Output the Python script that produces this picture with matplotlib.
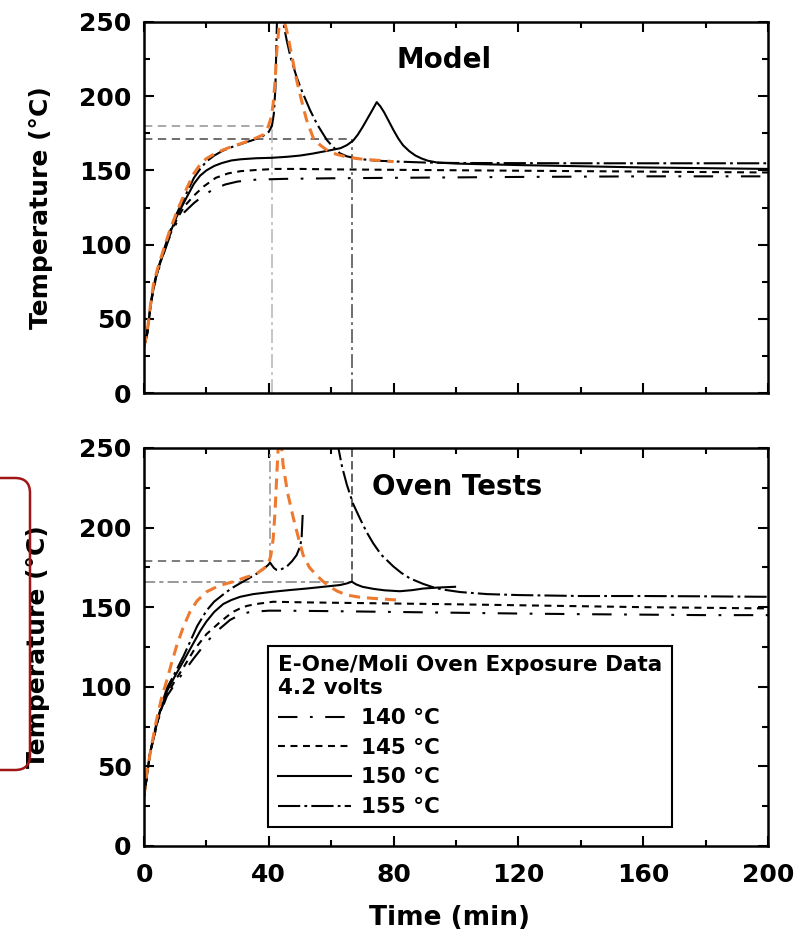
import matplotlib.pyplot as plt
from matplotlib.ticker import MultipleLocator
from matplotlib.patches import FancyBboxPatch

plt.rcParams['font.family'] = ['DejaVu Sans']
plt.rcParams['font.weight'] = 'bold'
plt.rcParams['lines.scale_dashes'] = False

# ---- Model (top panel) ----
m_t140 = [0, 1, 2, 3, 4.5, 6, 8, 10.5, 13, 16, 19, 22, 26, 30, 36, 45, 60, 80, 100, 120, 140, 160, 180, 200]
m_T140 = [31, 40, 57, 70, 82, 92, 104, 115, 122, 128, 133, 137, 140.5, 142.5, 143.8, 144.3, 144.7, 145, 145.3, 145.6, 145.8, 146, 146, 146]

m_t145 = [0, 1, 2, 3, 4.5, 6, 8, 10.5, 13, 16, 19, 23, 27, 31, 36, 42, 50, 60, 80, 100, 120, 140, 160, 180, 200]
m_T145 = [31, 40, 57, 71, 83, 93, 105, 117, 126, 133, 139, 145, 148, 149.5, 150.3, 151, 151, 150.7, 150.4, 150.1, 149.8, 149.5, 149.2, 148.9, 148.6]

m_t150 = [0, 1, 2, 3, 4.5, 6, 8, 10.5, 13.7, 16, 18, 20, 22.5, 25, 28, 31, 36, 41, 46, 50, 54, 57, 60, 63, 65, 67, 68.5, 70, 71.5, 73, 74.6,
          75.8, 77, 78.5, 80, 81.5, 83, 85, 87, 89, 91, 94, 100, 120, 140, 160, 180, 200]
m_T150 = [31, 40, 57, 71, 83, 93, 106, 119, 132, 141, 146.5, 150, 153, 155, 156.7, 157.5, 158.2, 158.5, 159.2, 160, 161.3, 162.5, 163.7, 165, 167, 170, 174, 179, 184.5, 190, 196,
          193, 189, 183, 177, 171.5, 167, 163, 160, 158, 156.5, 155.3, 154.6, 153.6, 152.8, 152, 151.5, 151]

m_t155 = [0, 1, 2, 3, 4.5, 6, 8, 10.5, 13.7, 16, 18, 20, 22.5, 25, 27.5, 30, 32.5, 35, 38, 40, 41, 41.6, 42.1, 42.6, 43.7,
          44.6, 45.7, 47, 48.9, 50.5, 53.2, 55.5, 58.6, 60.5, 62.8, 65, 68.2, 72, 75, 82, 90, 100, 120, 140, 160, 180, 200]
m_T155 = [31, 40, 58, 72, 84, 94, 107, 121, 135, 145, 151, 156, 160, 163, 165.3, 167, 168.8, 170.5, 173, 176, 180, 188, 205, 250, 268,
          250, 238, 226, 213, 204, 190.7, 181, 170.5, 166, 161.5, 159.5, 158, 157, 156.5, 155.9, 155.3, 155, 154.9, 154.8, 154.8, 154.8, 154.8]

m_t_orange = [0, 1, 2, 3, 4.5, 6, 8, 10.5, 13.7, 16, 18, 20, 22.5, 25, 28, 31, 35, 38.2, 39.8, 40.8, 41.4, 42, 42.5, 43.4, 44.2,
              45.0, 45.7, 47.3, 48.9, 50.5, 52.1, 54.3, 56.5, 58.6, 61.5, 65, 69, 73.5, 80]
m_T_orange = [31, 41, 58, 73, 85, 95, 108, 122, 138, 148, 154, 158, 161, 163.5, 166, 168, 171, 174, 179.5, 186, 195, 210, 229, 250, 262,
              250, 244.6, 228, 211, 197, 184, 171.6, 167, 163.7, 161, 159, 157.8, 157, 155.9]

m_ref_temp = [180, 171]
m_ref_time = [41, 66.6]

# ---- Oven tests (bottom panel) ----
o_t140 = [0, 1, 1.9, 3.5, 5, 7.3, 10, 12.6, 16, 20, 24, 27.6, 31, 34, 40, 44, 60, 80, 100, 120, 140, 160, 180, 200]
o_T140 = [31, 45, 58, 71, 82, 94, 102, 109, 118, 128, 136, 142, 145.5, 147, 147.8, 147.8, 147.5, 147, 146.5, 146, 145.6, 145.3, 145, 145]

o_t145 = [0, 1, 1.9, 3.5, 5, 7.3, 10, 12.6, 16, 20, 24, 26.5, 28.5, 30.8, 33, 36, 41.4, 52, 60, 80, 100, 120, 140, 160, 180, 200]
o_T145 = [31, 45, 58, 71, 83, 95, 104, 112, 123, 133, 140, 144, 147, 149.2, 150.8, 152, 153.4, 153, 152.8, 152.3, 151.8, 151.2, 150.6, 150, 149.6, 149.2]

o_t150 = [0, 1, 1.9, 3.5, 5.1, 7.3, 10, 12.6, 16, 18, 20, 22.5, 25.4, 28, 30.8, 35, 41.4, 47, 52.1, 57, 62.8, 65, 66.6,
          68, 70, 73.5, 77, 82, 86, 89.5, 94, 99.7]
o_T150 = [31, 45, 58, 72, 84, 97, 107, 116, 128, 135, 141, 147, 152, 154.5, 156.5, 158.2, 159.7, 160.8, 161.7, 162.7, 163.9, 164.9, 166,
          164.3, 162.8, 161.5, 160.6, 160, 160.7, 161.7, 162.3, 162.8]

o_t155 = [0, 1, 1.9, 3.5, 5.1, 7.3, 10, 12.6, 14.7, 17, 20.1, 22.5, 25.4, 28, 30.8, 33.5, 36.1, 38, 39.8, 40.4,
          41, 41.7, 42.5, 43.3, 44, 45.7, 47.5, 48.9, 50, 50.5, 50.9]
o_T155 = [31, 45, 58, 73, 85, 99, 109, 119, 128, 138, 148, 153.5, 158, 161.8, 165, 168, 171, 173.5, 176.5, 178,
          176.3, 174.5, 173.4, 173.2, 173.8, 175.4, 179, 182.7, 188, 193, 210]

o_t155b = [61.6, 62.3, 63.5, 65, 67, 69.2, 71.4, 73.5, 76, 79.9, 82.5, 85.3, 89.5, 93, 96, 101.3, 110, 120, 140, 160, 180, 200]
o_T155b = [256, 250, 238, 227, 215, 205.7, 197, 190, 183, 175.6, 171.5, 168, 164.6, 162.3, 161, 159.5, 158.2, 157.6, 157, 157, 156.8, 156.5]

o_t_orange = [0, 0.85, 2.5, 4, 5.5, 7.3, 9, 10.5, 12.5, 14.7, 17, 20.1, 24, 28.6, 32, 36.1, 39.8, 40.7, 41.4, 42, 42.5, 43.0, 43.6, 44.1,
              44.6, 46, 47.9, 49.5, 51, 53, 55.3, 57.5, 59.6, 62, 65, 69, 73.5, 81]
o_T_orange = [31, 45.5, 64, 79, 92, 104, 116, 126, 137, 147, 154, 159.7, 163.5, 166, 168.3, 171, 176.5, 183, 193, 210, 230.8, 250, 262, 250,
              239, 222, 205.7, 193.5, 182.7, 175, 170, 166, 162.8, 160, 157.6, 156.3, 155.5, 154.5]

o_ref_temp = [179, 166]
o_ref_time = [40.4, 66.6]

labels = ['140 °C', '145 °C', '150 °C', '155 °C']

# line styles (points)
ls140 = (0, (14, 9, 2, 9))
ls145 = (0, (5, 4))
ls155 = (0, (16, 3, 2, 3))
orange = '#ee7a30'
lw = 1.5

fig = plt.figure(figsize=(8.01, 9.36), dpi=100)
ax1 = fig.add_axes([0.1798, 0.5801, 0.779, 0.3964])
ax2 = fig.add_axes([0.1798, 0.0962, 0.779, 0.4252])

# reference lines
ax1.hlines(m_ref_temp[0], 0, m_ref_time[0], colors='#999999', linestyles=(0, (6, 4)), lw=1.2)
ax1.hlines(m_ref_temp[1], 0, m_ref_time[1], colors='#555555', linestyles=(0, (6, 4)), lw=1.2)
ax1.vlines(m_ref_time[0], 0, m_ref_temp[0], colors='#bbbbbb', linestyles=(0, (10, 3, 2, 3)), lw=1.2)
ax1.vlines(m_ref_time[1], 0, m_ref_temp[1], colors='#555555', linestyles=(0, (10, 3, 2, 3)), lw=1.2)

ax2.hlines(o_ref_temp[0], 0, o_ref_time[0], colors='#666666', linestyles=(0, (6, 4)), lw=1.2)
ax2.hlines(o_ref_temp[1], 0, o_ref_time[1], colors='#888888', linestyles=(0, (8, 3, 3, 3)), lw=1.2)
ax2.vlines(o_ref_time[0], o_ref_temp[0], 250, colors='#999999', linestyles=(0, (8, 3, 2, 3)), lw=1.2)
ax2.vlines(o_ref_time[1], o_ref_temp[1], 250, colors='#444444', linestyles=(0, (6, 3)), lw=1.2)

# model curves
ax1.plot(m_t140, m_T140, color='k', ls=ls140, lw=lw)
ax1.plot(m_t145, m_T145, color='k', ls=ls145, lw=lw)
ax1.plot(m_t150, m_T150, color='k', ls='-', lw=lw)
ax1.plot(m_t155, m_T155, color='k', ls=ls155, lw=lw)
ax1.plot(m_t_orange, m_T_orange, color=orange, ls=(0, (8, 5)), lw=2.2)

# oven curves
ax2.plot(o_t140, o_T140, color='k', ls=ls140, lw=lw, label=labels[0])
ax2.plot(o_t145, o_T145, color='k', ls=ls145, lw=lw, label=labels[1])
ax2.plot(o_t150, o_T150, color='k', ls='-', lw=lw, label=labels[2])
ax2.plot(o_t155, o_T155, color='k', ls=ls155, lw=lw, label=labels[3])
ax2.plot(o_t155b, o_T155b, color='k', ls=ls155, lw=lw)
ax2.plot(o_t_orange, o_T_orange, color=orange, ls=(0, (8, 5)), lw=2.2)

for ax in (ax1, ax2):
    ax.set_xlim(0, 200)
    ax.set_ylim(0, 250)
    ax.xaxis.set_major_locator(MultipleLocator(40))
    ax.xaxis.set_minor_locator(MultipleLocator(20))
    ax.yaxis.set_major_locator(MultipleLocator(50))
    ax.yaxis.set_minor_locator(MultipleLocator(25))
    ax.tick_params(which='both', direction='in', top=True, right=True, width=1.5)
    ax.tick_params(which='major', length=7, labelsize=18, pad=9)
    ax.tick_params(which='minor', length=4)
    for s in ax.spines.values():
        s.set_linewidth(1.8)
    for lab in ax.get_xticklabels() + ax.get_yticklabels():
        lab.set_fontweight('bold')

ax1.tick_params(labelbottom=False)
ax2.tick_params(axis='x', pad=12)

ax1.set_ylabel('Temperature (°C)', fontsize=18, fontweight='bold')
ax1.yaxis.set_label_coords(-0.146, 0.5)
ax2.set_ylabel('Temperature (°C)', fontsize=18, fontweight='bold')
ax2.yaxis.set_label_coords(-0.151, 0.5)
ax2.set_xlabel('Time (min)', fontsize=19, fontweight='bold')
ax2.xaxis.set_label_coords(0.49, -0.148)

ax1.text(0.405, 0.898, 'Model', transform=ax1.transAxes, fontsize=20, fontweight='bold', va='center')
ax2.text(0.365, 0.902, 'Oven Tests', transform=ax2.transAxes, fontsize=20, fontweight='bold', va='center')

leg = ax2.legend(loc='lower left', bbox_to_anchor=(0.199, 0.048), borderaxespad=0,
                 title='E-One/Moli Oven Exposure Data\n4.2 volts', alignment='left',
                 prop={'size': 15.5, 'weight': 'bold'}, title_fontproperties={'size': 15.5, 'weight': 'bold'},
                 handlelength=3.4, handletextpad=0.45, labelspacing=0.45, borderpad=0.45,
                 fancybox=False, framealpha=1, edgecolor='k')
leg.get_frame().set_linewidth(1.5)

# red rounded box at the left edge
box = FancyBboxPatch((-0.3, 1.66), 0.6, 2.92, boxstyle='round,pad=0,rounding_size=0.15',
                     transform=fig.dpi_scale_trans, fill=False, edgecolor='#a01515', lw=1.8)
fig.add_artist(box)

fig.savefig('out.png', dpi=100)
